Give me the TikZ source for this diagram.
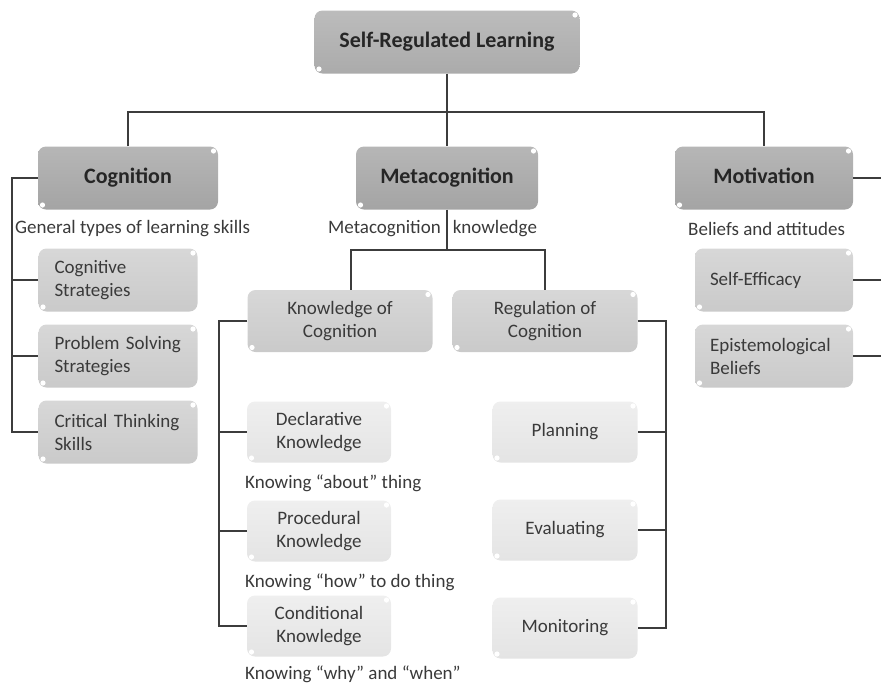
\documentclass[tikz,border=0pt]{standalone}
\usepackage{fontspec}
\setmainfont{Carlito}
\definecolor{topgray}{HTML}{ABABAB}
\definecolor{maingray}{HTML}{A4A4A4}
\definecolor{subgray}{HTML}{CACACA}
\definecolor{leafgray}{HTML}{E4E4E4}
\definecolor{linkgray}{HTML}{3C3C3C}
\definecolor{inkgray}{HTML}{3A3A3A}
\begin{document}
\begin{tikzpicture}[x=1pt,y=-1pt,
	glossy/.style={rounded corners=8pt,inner sep=0pt,align=center,text=inkgray,
		font=\fontsize{19}{23}\selectfont,
		path picture={\fill[white] ([xshift=-4.5pt,yshift=-4.5pt]path picture bounding box.north east) circle (2.6pt);
			\fill[white] ([xshift=4.5pt,yshift=4.5pt]path picture bounding box.south west) circle (2.6pt);}},
	mainbox/.style={glossy,top color=#1!80!white,bottom color=#1,minimum height=63pt,text=black!85,
		text height=15pt,text depth=5pt,font=\fontsize{22}{26}\selectfont\bfseries},
	subbox/.style={glossy,top color=subgray!75!white,bottom color=subgray,minimum height=63pt},
	leafbox/.style={glossy,top color=leafgray!60!white,bottom color=leafgray,minimum height=61pt},
	note/.style={anchor=west,inner sep=0pt,text=inkgray,font=\fontsize{19}{23}\selectfont},
	link/.style={draw=linkgray,line width=1.1pt}]
	\useasboundingbox (0,0) rectangle (881,683);
	% junctions and rails
	\coordinate (bus) at (447,112);
	\coordinate (metabus) at (447,250);
	\coordinate (cograil) at (12,178);
	\coordinate (kcrail) at (219,321);
	\coordinate (rcrail) at (666,321);
	\coordinate (edge) at (881,178);
	% top and first level
	\node[mainbox=topgray,minimum width=265pt] (srl) at (447,42) {Self-Regulated Learning};
	\node[mainbox=maingray,minimum width=180pt] (cog) at (128,178) {Cognition};
	\node[mainbox=maingray,minimum width=182pt] (meta) at (447,178) {Metacognition};
	\node[mainbox=maingray,minimum width=178pt] (mot) at (764,178) {Motivation};
	% notes
	\node[note] (cognote) at (15,229) {General types of learning skills};
	\node[note] (metanote) at (328,229) {Metacognition\hspace{12pt}knowledge};
	\node[note] (motnote) at (688,229) {Beliefs and attitudes};
	\node[note] (dknote) at (245,483) {Knowing “about” thing};
	\node[note] (pknote) at (245,582) {Knowing “how” to do thing};
	\node[note] (cknote) at (245,674) {Knowing “why” and “when”};
	% cognition and motivation children
	\node[subbox,minimum width=159pt,text width=127pt,align=left] (cs) at (118,280) {Cognitive\\Strategies};
	\node[subbox,minimum width=159pt,text width=127pt,align=left] (ps) at (118,356) {Problem Solving\\Strategies};
	\node[subbox,minimum width=159pt,text width=127pt,align=left] (ct) at (118,432) {Critical Thinking\\Skills};
	\node[subbox,minimum width=158pt,text width=128pt,align=left] (se) at (774,280) {Self-Efficacy};
	\node[subbox,minimum width=158pt,text width=128pt,align=left] (eb) at (774,356) {Epistemological\\Beliefs};
	% metacognition children
	\node[subbox,minimum width=185pt,minimum height=62pt] (kc) at (340,321) {Knowledge of\\Cognition};
	\node[subbox,minimum width=185pt,minimum height=62pt] (rc) at (545,321) {Regulation of\\Cognition};
	\node[leafbox,minimum width=144pt] (dk) at (319,432) {Declarative\\Knowledge};
	\node[leafbox,minimum width=144pt] (pk) at (319,531) {Procedural\\Knowledge};
	\node[leafbox,minimum width=144pt] (ck) at (319,626) {Conditional\\Knowledge};
	\node[leafbox,minimum width=145pt] (pl) at (565,432) {Planning};
	\node[leafbox,minimum width=145pt] (ev) at (565,530) {Evaluating};
	\node[leafbox,minimum width=145pt] (mo) at (565,628) {Monitoring};
	% connectors
	\draw[link] (srl.south) -- (bus);
	\draw[link] (cog.north) |- (bus) -| (mot.north);
	\draw[link] (bus) -- (meta.north);
	\draw[link] (cog.west) -- (cograil) |- (ct.west);
	\draw[link] (cograil |- cs.west) -- (cs.west);
	\draw[link] (cograil |- ps.west) -- (ps.west);
	\draw[link] (mot.east) -- (edge);
	\draw[link] (se.east) -- (edge |- se.east);
	\draw[link] (eb.east) -- (edge |- eb.east);
	\draw[link] (meta.south) -- (metabus);
	\draw[link] ([xshift=11pt]kc.north) |- (metabus) -| (rc.north);
	\draw[link] (kc.west) -- (kcrail) |- (ck.west);
	\draw[link] (kcrail |- dk.west) -- (dk.west);
	\draw[link] (kcrail |- pk.west) -- (pk.west);
	\draw[link] (rc.east) -- (rcrail) |- (mo.east);
	\draw[link] (rcrail |- pl.east) -- (pl.east);
	\draw[link] (rcrail |- ev.east) -- (ev.east);
\end{tikzpicture}
\end{document}
